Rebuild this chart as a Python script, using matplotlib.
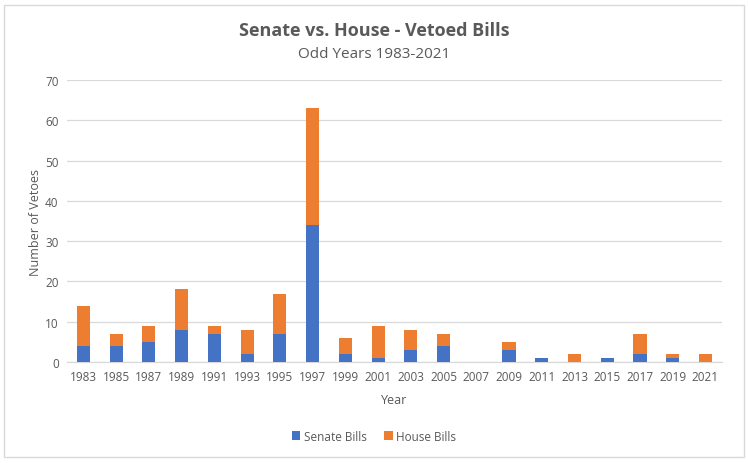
import matplotlib.pyplot as plt
from matplotlib.patches import Rectangle

years = ["1983", "1985", "1987", "1989", "1991", "1993", "1995", "1997", "1999", "2001",
         "2003", "2005", "2007", "2009", "2011", "2013", "2015", "2017", "2019", "2021"]
senate_bills = [4, 4, 5, 8, 7, 2, 7, 34, 2, 1, 3, 4, 0, 3, 1, 0, 1, 2, 1, 0]
house_bills = [10, 3, 4, 10, 2, 6, 10, 29, 4, 8, 5, 3, 0, 2, 0, 2, 0, 5, 1, 2]

plt.rcParams['font.family'] = ['Open Sans', 'DejaVu Sans']
grey = '#595959'

fig = plt.figure(figsize=(7.48, 4.64), dpi=100)
ax = fig.add_axes([0.0896, 0.2177, 0.8754, 0.6077])

x = list(range(len(years)))
ax.bar(x, senate_bills, width=0.4, color='#4472C4', label='Senate Bills', zorder=3)
ax.bar(x, house_bills, width=0.4, bottom=senate_bills, color='#ED7D31', label='House Bills', zorder=3)

ax.set_xlim(-0.5, len(years) - 0.5)
ax.set_ylim(0, 70)
ax.set_yticks(range(0, 71, 10))
ax.set_xticks(x)
ax.set_xticklabels(years)
ax.tick_params(axis='both', length=0, labelsize=8.5, colors=grey, pad=6)
ax.yaxis.grid(True, color='#D9D9D9', linewidth=0.9, zorder=0)
for s in ['top', 'right', 'left']:
    ax.spines[s].set_visible(False)
ax.spines['bottom'].set_color('#D9D9D9')
ax.spines['bottom'].set_linewidth(0.9)

ax.set_xlabel('Year', fontsize=9, color=grey, labelpad=7)
ax.set_ylabel('Number of Vetoes', fontsize=9, color=grey, labelpad=2)

fig.text(0.5, 0.933, 'Senate vs. House - Vetoed Bills', ha='center', va='center',
         fontsize=13, fontweight='bold', color=grey)
fig.text(0.5, 0.882, 'Odd Years 1983-2021', ha='center', va='center',
         fontsize=11, color=grey)

ax.legend(loc='center', bbox_to_anchor=(0.5, 0.058), bbox_transform=fig.transFigure,
          ncol=2, frameon=False, fontsize=8.5, handlelength=0.7, handleheight=0.7,
          handletextpad=0.3, columnspacing=1.5, labelcolor=grey)

fig.patches.append(Rectangle((0.006, 0.012), 0.988, 0.976, transform=fig.transFigure,
                             fill=False, edgecolor='#D9D9D9', linewidth=1))

fig.savefig('out.png', dpi=100)
